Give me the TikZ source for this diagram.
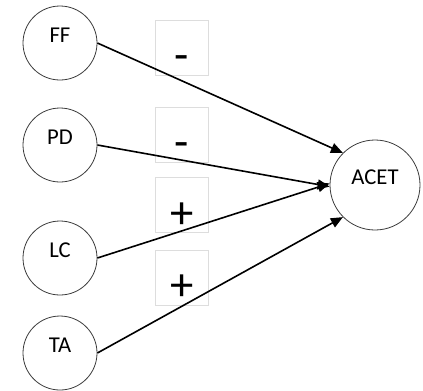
\documentclass[tikz,border=0pt]{standalone}
\usepackage{fontspec}
\setmainfont{Carlito}
\usetikzlibrary{arrows.meta}
\tikzset{
  factor/.style={circle,draw={rgb,255:red,60;green,60;blue,60},line width=0.6pt,fill=white,minimum size=55.5pt,inner sep=0pt,text depth=12pt,font=\fontsize{17}{17}\selectfont},
  signbox/.style={rectangle,draw={rgb,255:red,221;green,221;blue,221},line width=0.5pt,fill=white,minimum width=39.75pt,minimum height=41.25pt,inner sep=0pt},
  sign/.style={inner sep=0pt,font=\fontsize{35}{35}\selectfont},
  effect/.style={line width=1.2pt,-{Triangle[length=9pt,width=7.5pt]}}
}
\begin{document}
\begin{tikzpicture}[x=0.75pt,y=0.75pt,yscale=-1,xscale=1]
  \useasboundingbox (0,0) rectangle (423,390);
  %Shape: Rectangle 
  \node [signbox] (boxff) at (182,47.5) {};
  \node [signbox] (boxpd) at (182,134.5) {};
  \node [signbox] (boxlc) at (182,205) {};
  \node [signbox] (boxta) at (182,277.5) {};
  % Text Node
  \node [sign,anchor=base] (signff) at (182,70) {-};
  \node [sign,anchor=base] (signpd) at (182,157) {-};
  \node [sign,anchor=base] (signlc) at (182,228) {+};
  \node [sign,anchor=base] (signta) at (182,300) {+};
  %Shape: Circle 
  \node [factor] (ff) at (60,43) {FF};
  \node [factor] (pd) at (60,145) {PD};
  \node [factor] (lc) at (60,258) {LC};
  \node [factor] (ta) at (60,353) {TA};
  \node [factor,minimum size=67.5pt] (acet) at (375,185) {ACET};
  %Straight Lines 
  \draw [effect] (ff.east) -- (acet.135);
  \draw [effect] (pd.east) -- (acet.182);
  \draw [effect] (lc.east) -- (acet.178);
  \draw [effect] (ta.east) -- (acet.225);
\end{tikzpicture}
\end{document}
